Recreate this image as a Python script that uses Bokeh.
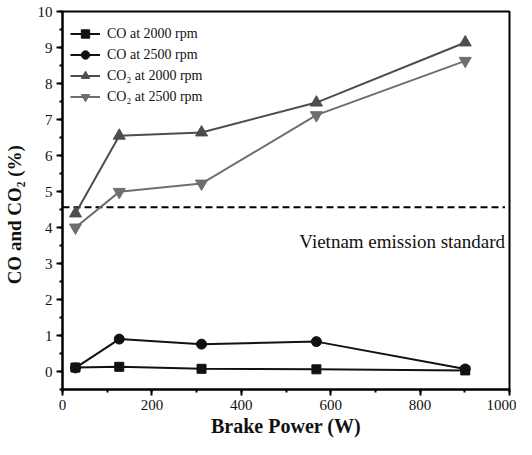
from bokeh.plotting import figure
from bokeh.models import Range1d, FixedTicker, Legend, LegendItem, Label
from bokeh.embed import file_html
from bokeh.resources import INLINE

power = [29, 127, 311, 568, 901]
co_2000 = [0.11, 0.13, 0.075, 0.06, 0.03]
co_2500 = [0.10, 0.90, 0.76, 0.83, 0.07]
co2_2000 = [4.39, 6.55, 6.64, 7.47, 9.14]
co2_2500 = [4.00, 4.99, 5.22, 7.12, 8.63]
standard_value = 4.56
standard_span = [0, 990]
standard_label = "Vietnam emission standard"
x_ticks = [0, 200, 400, 600, 800, 1000]
y_ticks = list(range(0, 11))

SERIF = "Liberation Serif"

p = figure(width=516, height=439, output_backend="svg", toolbar_location=None,
           x_range=Range1d(0, 1000), y_range=Range1d(-0.5, 10))
p.min_border_left = 55
p.min_border_right = 7
p.min_border_top = 11
p.min_border_bottom = 50
p.xgrid.visible = False
p.ygrid.visible = False
p.outline_line_color = "black"
p.outline_line_width = 2
p.outline_line_alpha = 1

for ax in (p.xaxis[0], p.yaxis[0]):
    ax.axis_line_width = 2
    ax.axis_line_color = "black"
    ax.major_tick_in = 0
    ax.major_tick_out = 6
    ax.minor_tick_in = 0
    ax.minor_tick_out = 3
    ax.major_tick_line_width = 2
    ax.minor_tick_line_width = 2
    ax.major_label_text_font = SERIF
    ax.major_label_text_font_size = "15px"
    ax.major_label_text_color = "#111111"
    ax.axis_label_text_font = SERIF
    ax.axis_label_text_font_style = "bold"
    ax.axis_label_text_color = "#111111"

p.xaxis.axis_label_text_font_size = "20px"
p.yaxis.axis_label_text_font_size = "19px"
p.xaxis.ticker = FixedTicker(ticks=x_ticks, minor_ticks=list(range(0, 1001, 100)))
p.yaxis.ticker = FixedTicker(ticks=y_ticks, minor_ticks=[v / 2 for v in range(-1, 21)])
p.xaxis.axis_label = "Brake Power (W)"
p.yaxis.axis_label = "CO and CO\u2082 (%)" + "\u00a0" * 6
p.xaxis.major_label_standoff = 4
p.yaxis.major_label_standoff = 4
p.xaxis.axis_label_standoff = 2
p.yaxis.axis_label_standoff = 10

# standard line
p.line(standard_span, [standard_value, standard_value], line_color="black",
       line_width=2, line_dash="7 4")
p.add_layout(Label(x=standard_span[1], y=3.6, text=standard_label, text_align="right",
                   text_baseline="middle", text_font=SERIF, text_font_size="19px",
                   text_color="#111111"))

c1 = "#111111"
c3 = "#4d4d4d"
c4 = "#6e6e6e"

l1 = p.line(power, co_2000, line_color=c1, line_width=2)
m1 = p.scatter(power, co_2000, marker="square", size=9, fill_color=c1, line_color=c1)
l2 = p.line(power, co_2500, line_color=c1, line_width=2)
m2 = p.scatter(power, co_2500, marker="circle", size=10, fill_color=c1, line_color=c1)
l3 = p.line(power, co2_2000, line_color=c3, line_width=2)
m3 = p.scatter(power, co2_2000, marker="triangle", size=12, fill_color=c3, line_color=c3)
l4 = p.line(power, co2_2500, line_color=c4, line_width=2)
m4 = p.scatter(power, co2_2500, marker="inverted_triangle", size=12, fill_color=c4, line_color=c4)

legend = Legend(items=[
    LegendItem(label="CO at 2000 rpm", renderers=[l1, m1]),
    LegendItem(label="CO at 2500 rpm", renderers=[l2, m2]),
    LegendItem(label="CO\u2082 at 2000 rpm", renderers=[l3, m3]),
    LegendItem(label="CO\u2082 at 2500 rpm", renderers=[l4, m4]),
], location=(8, 282))
legend.border_line_color = None
legend.background_fill_alpha = 0
legend.padding = 5
legend.margin = 0
legend.spacing = 0
legend.glyph_width = 30
legend.glyph_height = 21
legend.label_height = 21
legend.label_standoff = 7
legend.label_text_font = SERIF
legend.label_text_font_size = "14px"
legend.label_text_color = "#111111"
p.add_layout(legend)

open("out.html", "w").write(file_html(p, INLINE))
